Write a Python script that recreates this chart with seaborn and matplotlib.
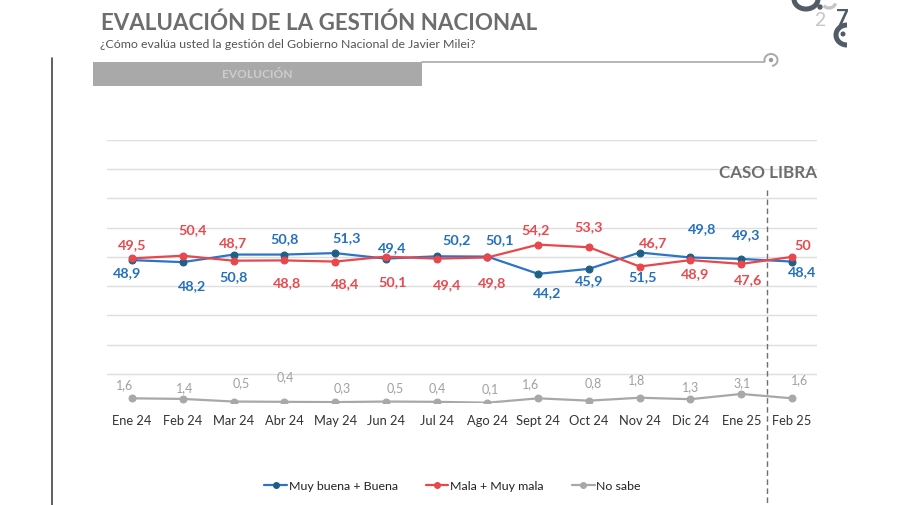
import matplotlib
matplotlib.use("Agg")
import matplotlib.pyplot as plt
import seaborn as sns
import pandas as pd
from matplotlib.patches import Rectangle, Arc, Circle
from matplotlib.lines import Line2D

# ---------------- data ----------------
months = ["Ene 24", "Feb 24", "Mar 24", "Abr 24", "May 24", "Jun 24", "Jul 24",
          "Ago 24", "Sept 24", "Oct 24", "Nov 24", "Dic 24", "Ene 25", "Feb 25"]
buena = [48.9, 48.2, 50.8, 50.8, 51.3, 49.4, 50.2, 50.1, 44.2, 45.9, 51.5, 49.8, 49.3, 48.4]
mala = [49.5, 50.4, 48.7, 48.8, 48.4, 50.1, 49.4, 49.8, 54.2, 53.3, 46.7, 48.9, 47.6, 50.0]
nosabe = [1.6, 1.4, 0.5, 0.4, 0.3, 0.5, 0.4, 0.1, 1.6, 0.8, 1.8, 1.3, 3.1, 1.6]
series_names = ["Muy buena + Buena", "Mala + Muy mala", "No sabe"]

title = "EVALUACIÓN DE LA GESTIÓN NACIONAL"
subtitle = "¿Cómo evalúa usted la gestión del Gobierno Nacional de Javier Milei?"
section = "EVOLUCIÓN"
event_label = "CASO LIBRA"

# label offsets (pixels: dx right, dy down) – layout only
off_buena = [(-5, 13), (9, 24), (0, 23), (0, -15), (12, -15), (6, -11), (20, -16),
             (12, -17), (9, 19), (0, 12), (3, 25), (12, -28), (5, -24), (10, 11)]
off_mala = [(0, -13), (10, -26), (0, -18), (3, 23), (10, 23), (7, 25), (11, 26),
            (5, 26), (-3, -15), (0, -20), (13, -23), (5, 14), (7, 16), (11, -11)]
off_nosabe = [(-7, -13), (2, -11), (8, -18), (1, -25), (7, -14), (9, -13), (1, -14),
              (3, -14), (-8, -14), (4, -18), (-3, -18), (0, -12), (1, -11), (8, -18)]

BLUE, BLUE_MK, BLUE_TX = "#2b74c6", "#1f5f86", "#2470c0"
RED, RED_TX = "#e8474c", "#e84a4f"
GRAY, GRAY_TX = "#a8a8a8", "#a0a0a0"
LOGO_DARK, LOGO_LIGHT = "#525c66", "#c6c6c6"

sns.set_theme(style="white")
plt.rcParams["font.family"] = ["Lato", "DejaVu Sans"]

W, H = 900, 505
fig = plt.figure(figsize=(W / 100, H / 100), dpi=100)

# overlay in pixel coordinates for decorations
ov = fig.add_axes([0, 0, 1, 1], zorder=0)
ov.set_xlim(0, W)
ov.set_ylim(H, 0)
ov.axis("off")
ov.patch.set_alpha(0)

ax = fig.add_axes([106.6 / W, 1 - 403 / H, (817.4 - 106.6) / W, 263 / H], zorder=1)
ax.patch.set_alpha(0)

df = pd.DataFrame({
    "idx": list(range(len(months))) * 3,
    "valor": buena + mala + nosabe,
    "serie": [series_names[0]] * len(months) + [series_names[1]] * len(months) + [series_names[2]] * len(months),
})

colors = {series_names[0]: BLUE, series_names[1]: RED, series_names[2]: GRAY}
mk_colors = {series_names[0]: BLUE_MK, series_names[1]: RED, series_names[2]: GRAY}
for name in series_names:
    sub = df[df["serie"] == name]
    sns.lineplot(data=sub, x="idx", y="valor", ax=ax, color=colors[name], lw=1.6,
                 marker="o", markersize=5, markerfacecolor=mk_colors[name],
                 markeredgecolor=mk_colors[name], label=name, legend=False, zorder=3)

ax.set_xlim(-0.5, len(months) - 0.5)
ax.set_ylim(0, 90)
ax.set_yticks(range(10, 100, 10))
ax.yaxis.grid(True, color="#dedede", lw=1)
ax.xaxis.grid(False)
ax.tick_params(axis="y", left=False, labelleft=False)
ax.set_xticks(range(len(months)))
ax.tick_params(axis="x", bottom=False, labelbottom=False)
for s in ax.spines.values():
    s.set_visible(False)
ax.set_xlabel("")
ax.set_ylabel("")

# category labels under the axis, baseline-aligned
for i, m in enumerate(months):
    ax.annotate(m, (i, 0), xycoords=ax.get_xaxis_transform(), xytext=(0, -22 * 0.72),
                textcoords="offset points", ha="center", va="baseline",
                fontsize=9.3, color="#333333", annotation_clip=False)

def px2pt(dx, dy):
    return (dx * 0.72, -dy * 0.72)

for vals, offs, col, fs, wt in [(buena, off_buena, BLUE_TX, 10.4, "bold"),
                                (mala, off_mala, RED_TX, 10.4, "bold"),
                                (nosabe, off_nosabe, GRAY_TX, 9.0, "normal")]:
    for i, v in enumerate(vals):
        txt = f"{v:g}".replace(".", ",")
        ax.annotate(txt, (i, v), xytext=px2pt(*offs[i]), textcoords="offset points",
                    ha="center", va="center", fontsize=fs, color=col, fontweight=wt,
                    zorder=4)

# event marker (between Ene 25 and Feb 25)
ax.plot([len(months) - 1.5] * 2, [72.9, -35], color="#6f6f6f", lw=1,
        ls=(0, (4, 2.5)), clip_on=False, zorder=2)
ev = ax.text(len(months) - 0.5, 78.7, event_label, ha="right", va="center",
             fontsize=13, fontweight="bold", color="#6e6e6e")

# header
t1 = ov.text(101, 23, title, fontsize=20, fontweight="bold", color="#6d6d6d",
             va="center", ha="left")
t2 = ov.text(100, 45, subtitle, fontsize=7.6, color="#555555", va="center", ha="left")
ov.add_patch(Rectangle((93, 62), 329, 24, color="#a9a9a9", lw=0))
ov.text(257, 74, section, fontsize=8.6, fontweight="bold", color="#cdcdcd",
        ha="center", va="center")
ov.plot([422, 764], [62, 62], color="#a9a9a9", lw=1.2)
ov.add_patch(Arc((771, 60), 13, 12, theta1=-200, theta2=80, color="#a9a9a9", lw=1.4))
ov.add_patch(Circle((771, 60), 1.5, color="#9a9a9a"))

# left page border
ov.plot([52, 52], [58, 505], color="#444444", lw=1.2)

# logo fragments (top-right)
ov.add_patch(Arc((806, -1), 24, 20, theta1=0, theta2=180, color=LOGO_DARK, lw=3.6))
ov.add_patch(Circle((820, 7), 2.0, color=LOGO_DARK))
ov.add_patch(Arc((829, 1), 14, 14, theta1=20, theta2=140, color=LOGO_LIGHT, lw=2.4))
ov.text(820, 21, "2", fontsize=14, color=LOGO_LIGHT, ha="center", va="center")
ov.text(842, 20, "7", fontsize=16, fontweight="bold", color=LOGO_DARK, ha="center", va="center")
ov.add_patch(Arc((847, 35), 22, 20, theta1=90, theta2=270, color=LOGO_DARK, lw=3.6))
ov.add_patch(Circle((843, 34), 1.8, color=LOGO_DARK))
ov.add_patch(Rectangle((848, 0), 52, 60, color="white", lw=0, zorder=5))

# legend
handles = [Line2D([0], [0], color=colors[n], lw=1.6, marker="o", markersize=4,
                  markerfacecolor=mk_colors[n], markeredgecolor=mk_colors[n])
           for n in series_names]
fig.legend(handles, series_names, loc="center", bbox_to_anchor=(0.503, 1 - 486 / H),
           ncol=3, frameon=False, fontsize=8.9, handlelength=1.8, handletextpad=0.15,
           columnspacing=2.3, labelcolor="#222222")

# fit header widths to the reference
fig.canvas.draw()
r = fig.canvas.get_renderer()
for t, target in [(t1, 436), (t2, 378), (ev, 98)]:
    w = t.get_window_extent(r).width
    t.set_fontsize(t.get_fontsize() * target / w)

fig.savefig("out.png", dpi=100)
